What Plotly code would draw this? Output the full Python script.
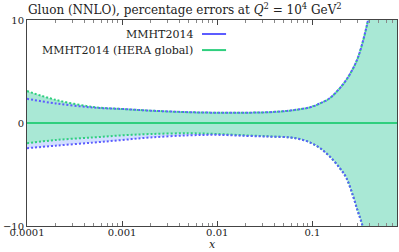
import plotly.graph_objects as go

# x grid (momentum fraction)
x_vals = [1e-4, 2e-4, 5e-4, 1e-3, 2e-3, 5e-3, 0.01, 0.02, 0.035, 0.058, 0.073, 0.094,
          0.12, 0.152, 0.194, 0.228, 0.268, 0.30, 0.33, 0.364, 0.385, 0.45, 0.55, 0.8]
# MMHT2014 (HERA global) percentage errors
green_up = [3.1, 2.25, 1.55, 1.36, 1.2, 1.05, 1.0, 1.0, 1.05, 1.2, 1.33, 1.52,
            1.9, 2.4, 3.37, 4.2, 5.3, 6.3, 7.5, 9.0, 10.0, 13.0, 18.0, 30.0]
green_dn = [-1.97, -1.65, -1.4, -1.2, -1.07, -1.0, -1.07, -1.2, -1.3, -1.4, -1.55, -1.88,
            -2.43, -3.24, -4.37, -5.34, -7.1, -8.55, -9.7, -11.3, -12.3, -16.0, -22.0, -40.0]
# MMHT2014 percentage errors
blue_up = [2.35, 1.9, 1.5, 1.36, 1.2, 1.05, 1.0, 1.0, 1.05, 1.2, 1.33, 1.52,
           1.9, 2.4, 3.37, 4.2, 5.3, 6.3, 7.5, 9.0, 10.0, 13.0, 18.0, 30.0]
blue_dn = [-2.45, -2.2, -1.9, -1.65, -1.4, -1.2, -1.15, -1.25, -1.32, -1.4, -1.55, -1.88,
           -2.43, -3.24, -4.37, -5.34, -7.1, -8.55, -9.7, -11.3, -12.3, -16.0, -22.0, -40.0]
central = [0.0] * len(x_vals)

x_ticks = [1e-4, 1e-3, 1e-2, 1e-1]
x_ticklabels = ["0.0001", "0.001", "0.01", "0.1"]
y_ticks = [-10, 0, 10]
y_ticklabels = ["\u221210", "0", "10"]

BLUE = "#5c5cff"
GREEN = "#2fcf7e"
GFILL = "#a9e8d5"
BFILL = "rgba(205,220,255,0.9)"
DOT = "2px,2px"

fig = go.Figure()
# blue band fill
fig.add_trace(go.Scatter(x=x_vals, y=blue_dn, mode="lines", line=dict(width=0, shape="spline"),
                         showlegend=False, hoverinfo="skip"))
fig.add_trace(go.Scatter(x=x_vals, y=blue_up, mode="lines", line=dict(width=0, shape="spline"),
                         fill="tonexty", fillcolor=BFILL, showlegend=False, hoverinfo="skip"))
# green band fill
fig.add_trace(go.Scatter(x=x_vals, y=green_dn, mode="lines", line=dict(width=0, shape="spline"),
                         showlegend=False, hoverinfo="skip"))
fig.add_trace(go.Scatter(x=x_vals, y=green_up, mode="lines", line=dict(width=0, shape="spline"),
                         fill="tonexty", fillcolor=GFILL, showlegend=False, hoverinfo="skip"))
# dotted edges
for yv in (green_up, green_dn):
    fig.add_trace(go.Scatter(x=x_vals, y=yv, mode="lines",
                             line=dict(color=GREEN, width=2, dash=DOT, shape="spline"),
                             showlegend=False, hoverinfo="skip"))
for yv in (blue_up, blue_dn):
    fig.add_trace(go.Scatter(x=x_vals, y=yv, mode="lines",
                             line=dict(color=BLUE, width=2, dash=DOT, shape="spline"),
                             showlegend=False, hoverinfo="skip"))
# central line
fig.add_trace(go.Scatter(x=x_vals, y=central, mode="lines",
                         line=dict(color=GREEN, width=2), showlegend=False, hoverinfo="skip"))

FONT = "DejaVu Serif"
fig.update_layout(
    width=399, height=252,
    margin=dict(l=27, r=2, t=20, b=26, autoexpand=False),
    paper_bgcolor="white", plot_bgcolor="white",
    font=dict(family=FONT, size=11, color="#222"),
    title=dict(text="Gluon (NNLO), percentage errors at <i>Q</i><sup>2</sup> = 10<sup>4</sup> GeV<sup>2</sup>",
               x=28 / 399, xanchor="left", y=1 - 10 / 252, yanchor="middle", font=dict(family=FONT, size=12)),
    showlegend=False,
)
fig.update_xaxes(type="log", range=[-4, -0.11], tickvals=x_ticks, ticktext=x_ticklabels,
                 ticks="inside", ticklen=5, tickcolor="#444", automargin=False,
                 ticklabelstandoff=-3,
                 minor=dict(ticks="inside", ticklen=3, tickcolor="#888", dtick="D1"),
                 showline=True, linecolor="#444", linewidth=1, mirror="allticks",
                 showgrid=False, zeroline=False, tickfont=dict(size=10))
fig.update_yaxes(range=[-10, 10], tickvals=y_ticks, ticktext=y_ticklabels, automargin=False,
                 ticks="", showline=True, linecolor="#444", linewidth=1, mirror=True,
                 showgrid=False, zeroline=False, tickfont=dict(size=10))

# x-axis label
fig.add_annotation(x=0.5, y=-18 / 206, xref="paper", yref="paper", text="<i>x</i>", showarrow=False,
                   xanchor="center", yanchor="middle", font=dict(family=FONT, size=11))

# legend drawn as text + line samples
leg_names = ["MMHT2014", "MMHT2014 (HERA global)"]
leg_colors = [BLUE, GREEN]
leg_y = [0.932, 0.854]
for name, col, yy in zip(leg_names, leg_colors, leg_y):
    fig.add_annotation(x=0.455, y=yy, xref="paper", yref="paper", text=name, showarrow=False,
                       xanchor="right", yanchor="middle", font=dict(family=FONT, size=11))
    fig.add_shape(type="line", xref="paper", yref="paper", x0=0.473, x1=0.538, y0=yy, y1=yy,
                  line=dict(color=col, width=2))

fig.write_html("out.html", config={"displayModeBar": False},
               post_script="document.body.style.margin='0';document.body.style.overflow='hidden';")
